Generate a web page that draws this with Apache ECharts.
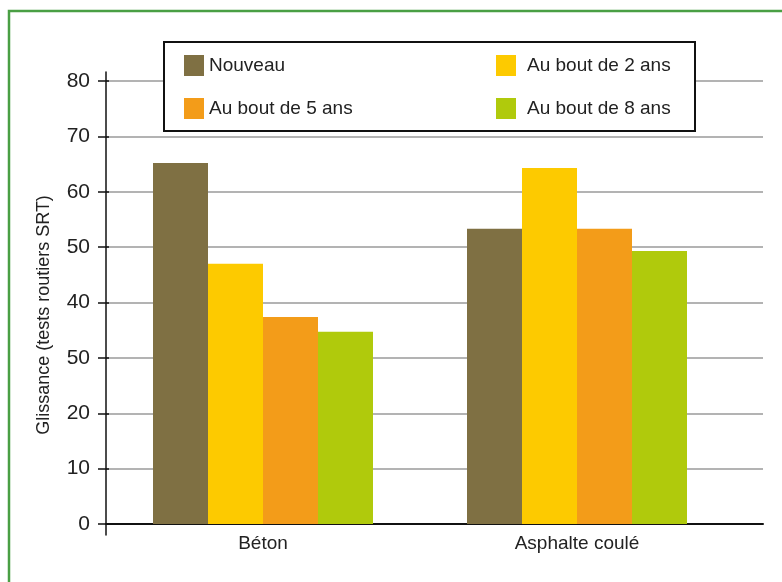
<!DOCTYPE html>
<html>
<head>
<meta charset="utf-8">
<title>Glissance</title>
<script src="https://cdn.jsdelivr.net/npm/echarts@6/dist/echarts.min.js"></script>
<style>
  html, body { margin: 0; padding: 0; background: #fff; }
  #chart { width: 782px; height: 582px; }
</style>
</head>
<body>
<div id="chart"></div>
<script>
// données
const categories = ["Béton", "Asphalte coulé"];
const seriesNames = ["Nouveau", "Au bout de 2 ans", "Au bout de 5 ans", "Au bout de 8 ans"];
const nouveau = [65.2, 53.3];
const bout2ans = [47, 64.3];
const bout5ans = [37.4, 53.3];
const bout8ans = [34.7, 49.3];
const yTickLabels = ["0", "10", "20", "50", "40", "50", "60", "70", "80"];
const yTitle = "Glissance (tests routiers SRT)";

const colors = ["#7f7043", "#fdca00", "#f39c19", "#b0ca0c"];
const font = "Liberation Sans Narrow, Liberation Sans, sans-serif";
const values = [nouveau, bout2ans, bout5ans, bout8ans];

const chart = echarts.init(document.getElementById("chart"));

// positions des entrées de la légende
const legendPos = [
  { left: 184, top: 55, gap: 0 },
  { left: 496, top: 55, gap: 6 },
  { left: 184, top: 98, gap: 0 },
  { left: 496, top: 98, gap: 6 }
];

const option = {
  animation: false,
  backgroundColor: "#fff",
  grid: [
    // barres
    { left: 106, width: 628, top: 81, bottom: 58 },
    // lignes de grille + axe x
    { left: 106, right: 19, top: 81, bottom: 58 },
    // trait de l'axe y (dépasse un peu)
    { left: 106, width: 1, top: 72, bottom: 47 }
  ],
  xAxis: [
    {
      gridIndex: 0,
      type: "category",
      data: categories,
      axisLine: { show: false },
      axisTick: { show: false },
      axisLabel: { margin: 10, fontFamily: font, fontSize: 19, color: "#222" }
    },
    {
      gridIndex: 1,
      type: "value",
      min: 0,
      max: 1,
      axisLine: { show: true, lineStyle: { color: "#111", width: 2 } },
      axisTick: { show: false },
      axisLabel: { show: false },
      splitLine: { show: false }
    },
    {
      gridIndex: 2,
      type: "value",
      show: false
    }
  ],
  yAxis: [
    {
      gridIndex: 0,
      type: "value",
      min: 0,
      max: 80,
      interval: 10,
      axisLine: { show: false },
      axisTick: { show: true, inside: true, length: 3, lineStyle: { color: "#111", width: 1.5 } },
      axisLabel: { show: false },
      splitLine: { show: false }
    },
    {
      gridIndex: 1,
      type: "value",
      min: 0,
      max: 80,
      interval: 10,
      axisLine: { show: false },
      axisTick: { show: true, length: 8, lineStyle: { color: "#111", width: 1.5 } },
      axisLabel: {
        margin: 16,
        fontFamily: font,
        fontSize: 21,
        color: "#222",
        formatter: function (v) { return yTickLabels[Math.round(v / 10)]; }
      },
      splitLine: { show: true, lineStyle: { color: "#9a9a9a", width: 1.5 } }
    },
    {
      gridIndex: 2,
      type: "value",
      axisLine: { show: true, lineStyle: { color: "#111", width: 1.5 } },
      axisTick: { show: false },
      axisLabel: { show: false },
      splitLine: { show: false }
    }
  ],
  legend: seriesNames.map(function (name, i) {
    return {
      data: [name],
      left: legendPos[i].left,
      top: legendPos[i].top,
      padding: 0,
      itemWidth: 20,
      itemHeight: 21,
      icon: "rect",
      selectedMode: false,
      z: 20,
      textStyle: {
        fontFamily: font,
        fontSize: 19,
        color: "#222",
        padding: [0, 0, 0, legendPos[i].gap]
      }
    };
  }),
  graphic: [
    {
      type: "rect",
      z: 10,
      shape: { x: 9, y: 11, width: 820, height: 620 },
      style: { fill: null, stroke: "#4a9f44", lineWidth: 2.5 }
    },
    {
      type: "rect",
      z: 10,
      shape: { x: 164, y: 42, width: 531, height: 89 },
      style: { fill: "#fff", stroke: "#111", lineWidth: 2 }
    },
    {
      type: "text",
      z: 10,
      x: 44,
      y: 315,
      rotation: Math.PI / 2,
      style: {
        text: yTitle,
        fontFamily: font,
        fontSize: 18,
        fill: "#222",
        align: "center",
        verticalAlign: "middle"
      }
    }
  ],
  series: seriesNames.map(function (name, i) {
    return {
      name: name,
      type: "bar",
      xAxisIndex: 0,
      yAxisIndex: 0,
      data: values[i],
      barWidth: 55,
      barGap: "0%",
      itemStyle: { color: colors[i] }
    };
  })
};

chart.setOption(option);
</script>
</body>
</html>
